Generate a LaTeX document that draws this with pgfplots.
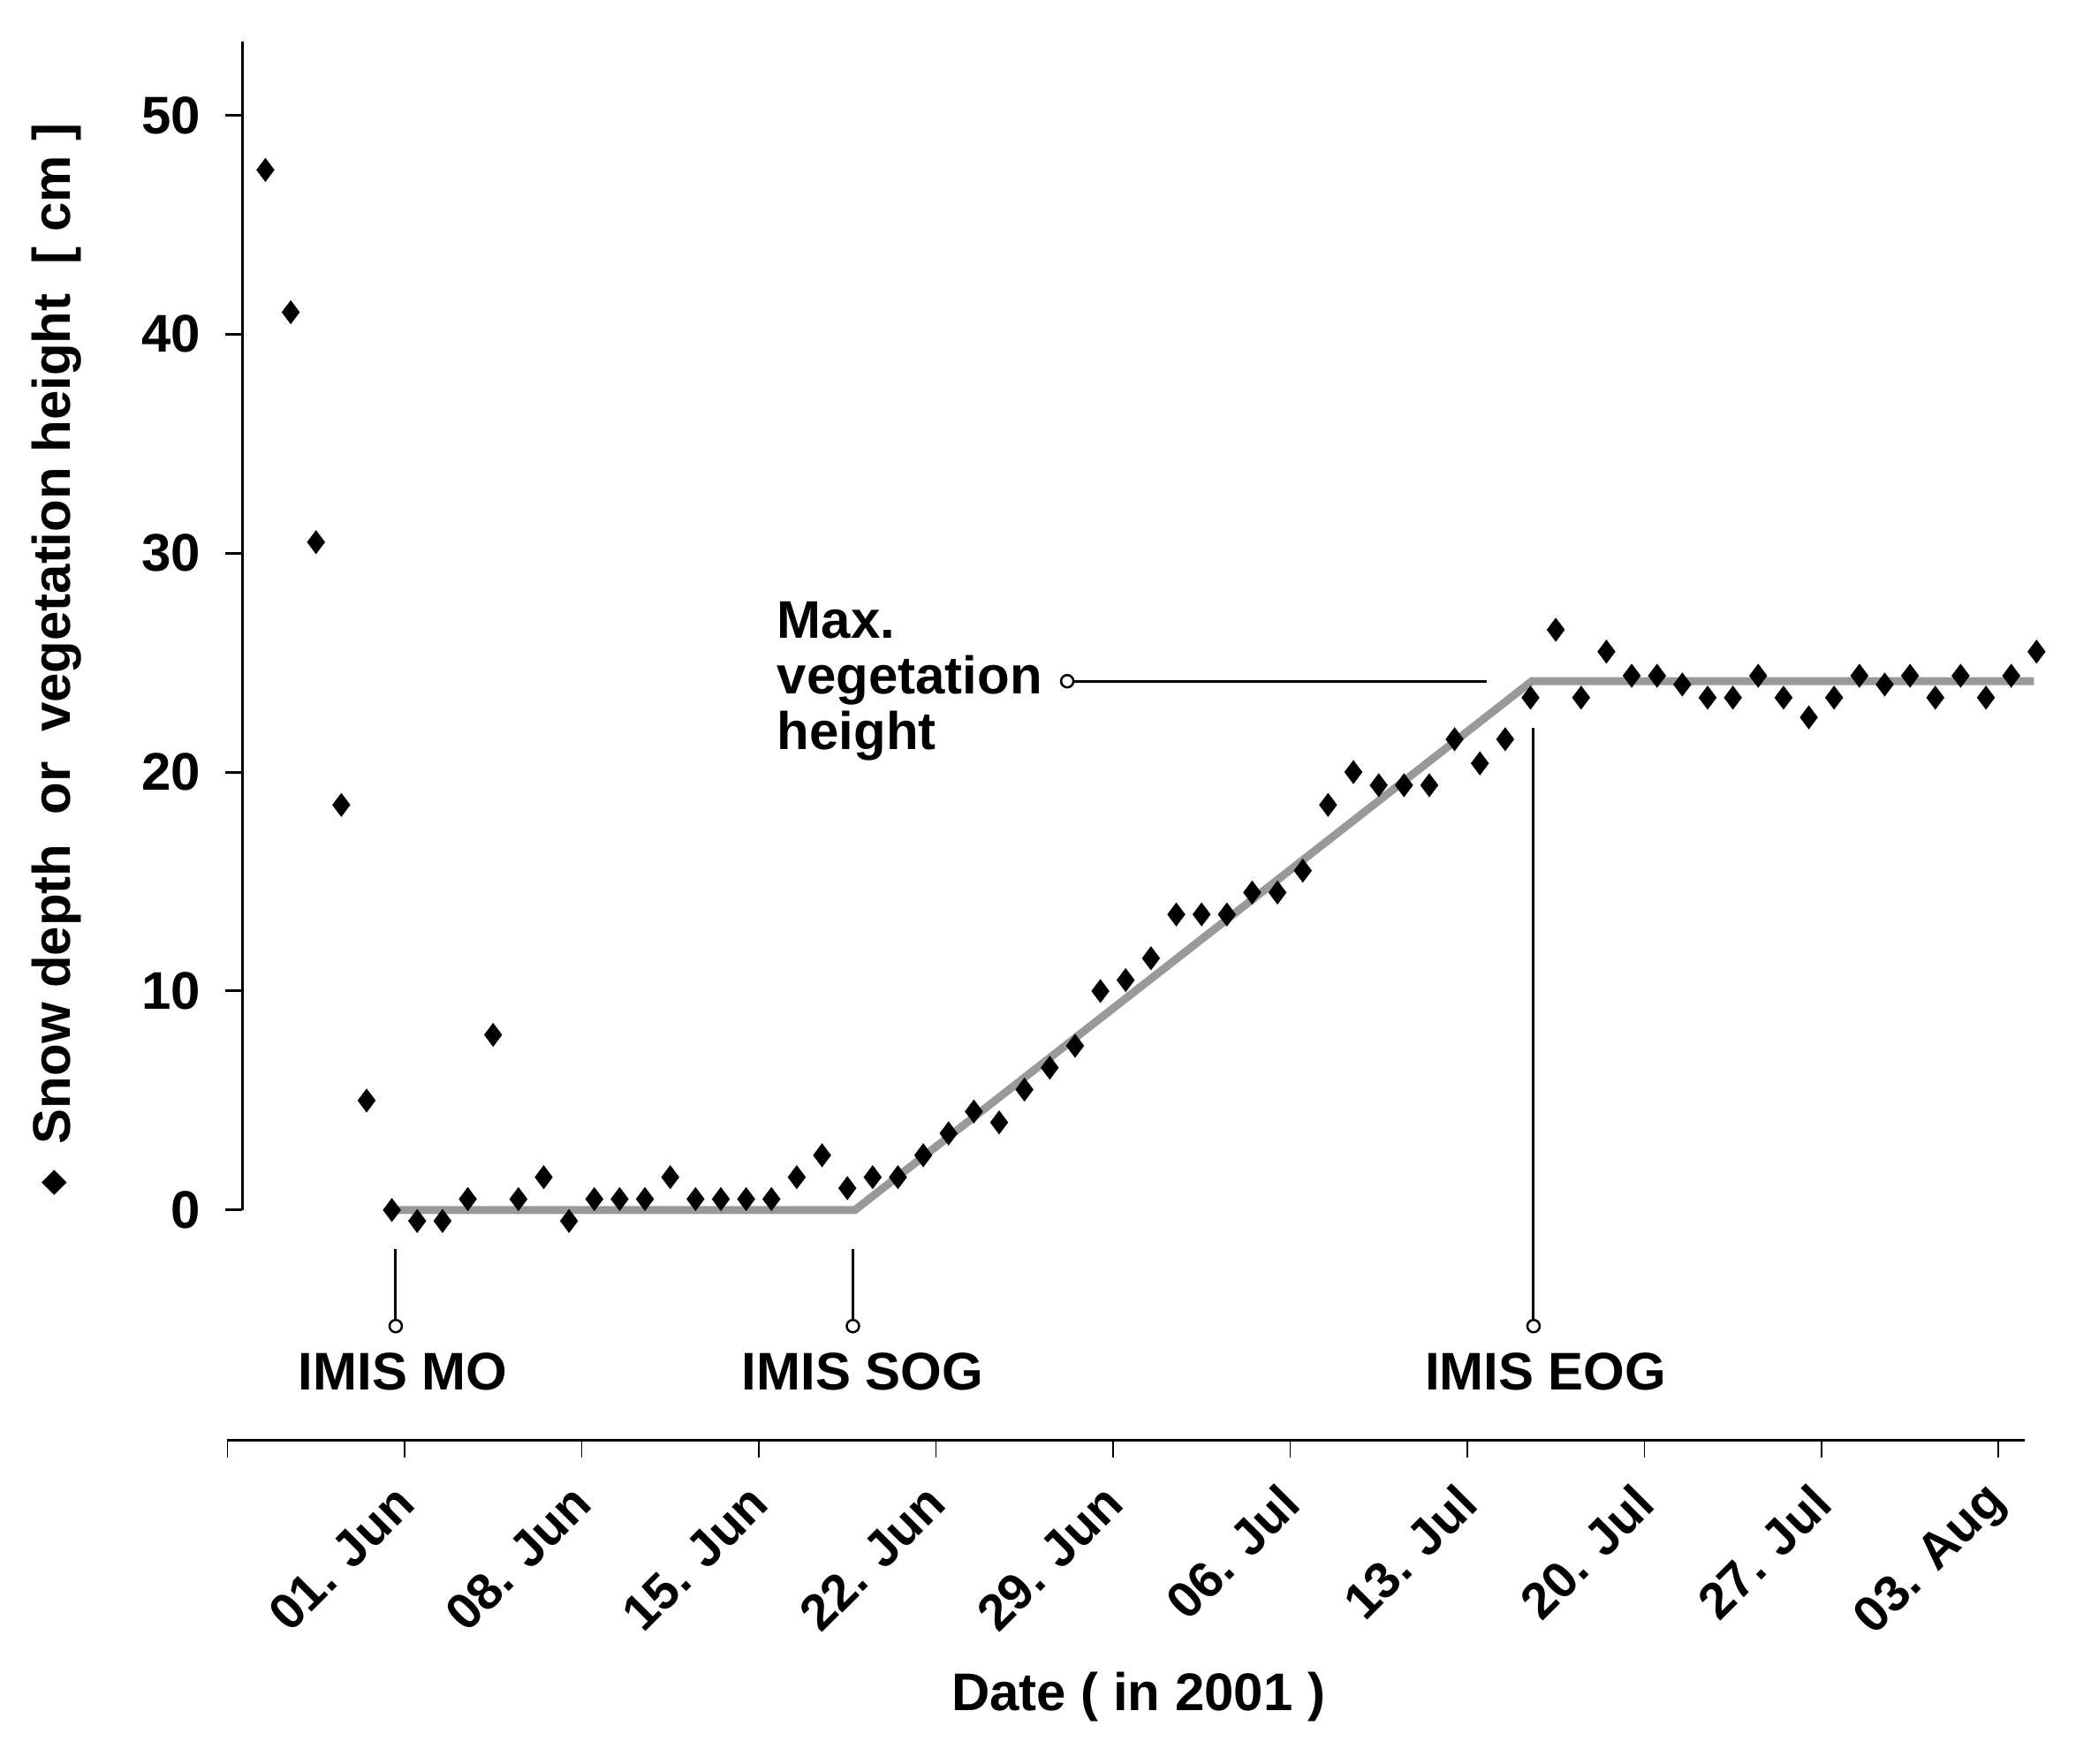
\documentclass[border=0pt]{standalone}
\usepackage{fontspec}
\setmainfont{Liberation Sans}
\newfontfamily\dejavu{DejaVu Sans}
\usepackage{pgfplots}
\usepackage{pgfplotstable}
\pgfplotsset{compat=1.18}
\definecolor{fitgray}{RGB}{153,153,153}
\newcommand{\lbl}{\fontsize{12}{12.6}\selectfont\bfseries}
\newcommand{\tlbl}{\fontsize{11.5}{12}\selectfont\bfseries}

% day 0 = 01 Jun 2001
\pgfplotstableread{
day depth
-5.5 47.5
-4.5 41.0
-3.5 30.5
-2.5 18.5
-1.5 5.0
-0.5 0.0
0.5 -0.5
1.5 -0.5
2.5 0.5
3.5 8.0
4.5 0.5
5.5 1.5
6.5 -0.5
7.5 0.5
8.5 0.5
9.5 0.5
10.5 1.5
11.5 0.5
12.5 0.5
13.5 0.5
14.5 0.5
15.5 1.5
16.5 2.5
17.5 1.0
18.5 1.5
19.5 1.5
20.5 2.5
21.5 3.5
22.5 4.5
23.5 4.0
24.5 5.5
25.5 6.5
26.5 7.5
27.5 10.0
28.5 10.5
29.5 11.5
30.5 13.5
31.5 13.5
32.5 13.5
33.5 14.5
34.5 14.5
35.5 15.5
36.5 18.5
37.5 20.0
38.5 19.4
39.5 19.4
40.5 19.4
41.5 21.5
42.5 20.4
43.5 21.5
44.5 23.4
45.5 26.5
46.5 23.4
47.5 25.5
48.5 24.4
49.5 24.4
50.5 24.0
51.5 23.4
52.5 23.4
53.5 24.4
54.5 23.4
55.5 22.5
56.5 23.4
57.5 24.4
58.5 24.0
59.5 24.4
60.5 23.4
61.5 24.4
62.5 23.4
63.5 24.4
64.5 25.5
}\obs

\begin{document}
\begin{tikzpicture}
\begin{axis}[
  name=ax,
  x=5.733pt, y=4.962pt,
  xmin=-7, xmax=64.05, ymin=-10.5, ymax=53.36,
  axis x line*=bottom, hide y axis,
  x axis line style={-, line width=0.6pt},
  every outer x axis line/.append style={-},
  xtick={-7,0,7,...,63},
  xticklabels={,01. Jun,08. Jun,15. Jun,22. Jun,29. Jun,06. Jul,13. Jul,20. Jul,27. Jul,03. Aug},
  tick align=outside, major tick length=3.9pt,
  x tick style={line width=0.35pt, black},
  xticklabel style={xshift=2.5pt, yshift=-6pt, rotate=45, anchor=east, font=\tlbl},
  clip=false,
]
\addplot[fitgray, line width=1.8pt, no marks] coordinates {(-0.3,0) (17.8,0) (44.55,24.15) (64.4,24.15)};
\addplot[only marks, mark=diamond*, mark size=2.4pt, black] table[x=day, y=depth] {\obs};

% markers of the IMIS dates
\draw[line width=0.6pt] (axis cs:-0.35,-1.8) -- (axis cs:-0.35,-5.3);
\draw[line width=0.6pt] (axis cs:17.72,-1.8) -- (axis cs:17.72,-5.3);
\draw[line width=0.6pt] (axis cs:44.62,22.0) -- (axis cs:44.62,-5.3);
\draw[line width=0.6pt] (axis cs:26.19,24.15) -- (axis cs:42.78,24.15);
\draw[line width=0.5pt, fill=white] (axis cs:-0.35,-5.3) circle[radius=1.4pt];
\draw[line width=0.5pt, fill=white] (axis cs:17.72,-5.3) circle[radius=1.4pt];
\draw[line width=0.5pt, fill=white] (axis cs:44.62,-5.3) circle[radius=1.4pt];
\draw[line width=0.5pt, fill=white] (axis cs:26.19,24.15) circle[radius=1.4pt];

\node[font=\lbl] at (axis cs:-0.07,-7.4) {IMIS MO};
\node[font=\lbl] at (axis cs:18.1,-7.4) {IMIS SOG};
\node[font=\lbl] at (axis cs:45.1,-7.4) {IMIS EOG};
\node[font=\lbl, align=left, anchor=west, inner sep=0pt] at (axis cs:14.7,24.15) {Max.\\vegetation\\height};

\node[font=\lbl] at (axis cs:29.0,-22.25) {Date ( in 2001 )};
\node[font=\lbl, rotate=90, anchor=west, inner sep=0pt] at (axis cs:-13.75,0.6)
  {\raisebox{1.6pt}{\dejavu\fontsize{7.5}{7.5}\selectfont ◆}\hspace{6pt}Snow depth\ \ or\ \ vegetation height\ \ [ cm ]};

\coordinate (yo) at (axis cs:-6.42,0);
\path (axis cs:-15.99,-25.27) rectangle (axis cs:66.06,55.26);
\end{axis}

\begin{axis}[
  at={(yo)}, anchor=south west,
  x=5.733pt, y=4.962pt,
  xmin=-6.42, xmax=64.05, ymin=0, ymax=53.36,
  axis y line*=left, hide x axis,
  y axis line style={-, line width=0.6pt},
  every outer y axis line/.append style={-},
  ytick={0,10,...,50},
  tick align=outside, major tick length=3.9pt,
  y tick style={line width=0.6pt, black},
  yticklabel style={font=\lbl, xshift=-2pt},
  /pgf/number format/assume math mode=true,
]
\end{axis}
\end{tikzpicture}
\end{document}
